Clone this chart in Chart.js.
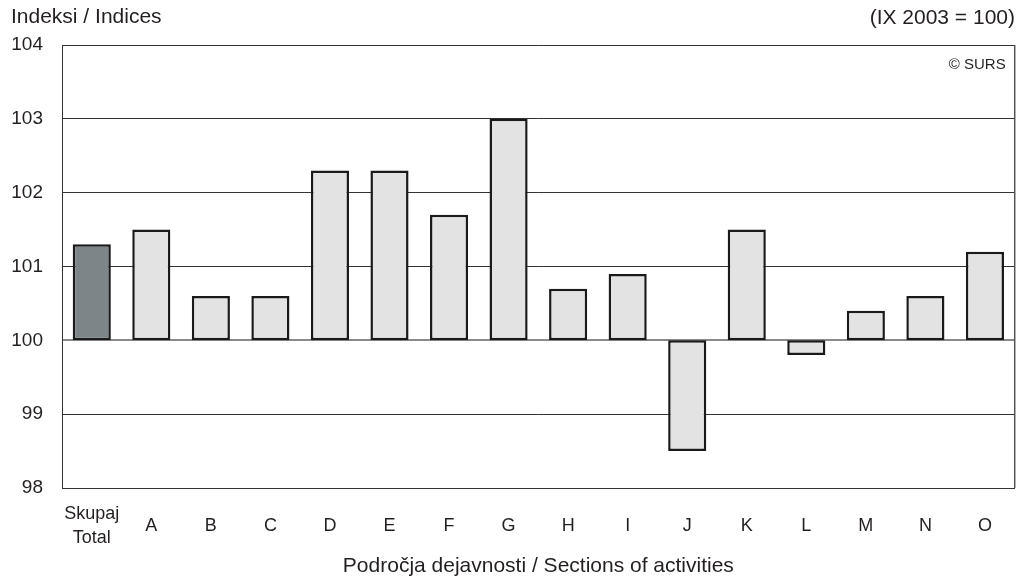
<!DOCTYPE html>
<html>
<head>
<meta charset="utf-8">
<script src="https://cdn.jsdelivr.net/npm/chart.js@4"></script>
<style>
  html, body { margin: 0; padding: 0; background: #fff; }
  #wrap { width: 1018px; height: 579px; position: relative; }
</style>
</head>
<body>
<div id="wrap"><canvas id="graficoIndeksi"></canvas></div>
<script>
const kategorije = [["Skupaj", "Total"], "A", "B", "C", "D", "E", "F", "G", "H", "I", "J", "K", "L", "M", "N", "O"];
const indeksi = [101.3, 101.5, 100.6, 100.6, 102.3, 102.3, 101.7, 103.0, 100.7, 100.9, 98.5, 101.5, 99.8, 100.4, 100.6, 101.2];
const osnova = 100;
const yTicks = [98, 99, 100, 101, 102, 103, 104];

const naslovLevo = "Indeksi / Indices";
const naslovDesno = "(IX 2003 = 100)";
const vir = "© SURS";
const naslovX = "Področja dejavnosti / Sections of activities";

const FONT = "'Liberation Sans', Arial, sans-serif";
const TEXT = "#231f20";

// plovni stolpci od 100 do vrednosti
const podatki = indeksi.map(v => [osnova, v]);
const barve = indeksi.map((v, i) => i === 0 ? "#7e8588" : "#e3e3e3");

// desni rob okvirja in besedila nad grafom
const dodatki = {
    id: "dodatki",
    afterDraw(chart) {
        const ctx = chart.ctx;
        const a = chart.chartArea;
        ctx.save();
        ctx.strokeStyle = "#555";
        ctx.lineWidth = 1.5;
        ctx.beginPath();
        ctx.moveTo(a.right, a.top);
        ctx.lineTo(a.right, a.bottom);
        ctx.stroke();

        ctx.fillStyle = TEXT;
        ctx.textBaseline = "middle";
        ctx.font = "21px " + FONT;
        ctx.textAlign = "left";
        ctx.fillText(naslovLevo, 11, 17);
        ctx.textAlign = "right";
        ctx.fillText(naslovDesno, 1015, 18);
        ctx.font = "15px " + FONT;
        ctx.fillText(vir, a.right - 9, a.top + 20);
        ctx.restore();
    }
};

const ctx = document.getElementById("graficoIndeksi").getContext("2d");
new Chart(ctx, {
    type: "bar",
    data: {
        labels: kategorije,
        datasets: [{
            data: podatki,
            backgroundColor: barve,
            borderColor: "#1a1a1a",
            borderWidth: 2.5,
            borderSkipped: false,
            categoryPercentage: 1,
            barPercentage: 0.64
        }]
    },
    options: {
        responsive: true,
        maintainAspectRatio: false,
        animation: false,
        layout: { padding: { top: 45, right: 2, left: 0, bottom: 0 } },
        plugins: {
            legend: { display: false },
            tooltip: { enabled: false }
        },
        scales: {
            x: {
                grid: { display: false, drawTicks: false },
                border: { display: true, color: "#333", width: 1 },
                ticks: {
                    color: TEXT,
                    font: { family: FONT, size: 18, lineHeight: "24px" },
                    padding: 26,
                    crossAlign: "center",
                    maxRotation: 0,
                    autoSkip: false
                },
                title: {
                    display: true,
                    text: naslovX,
                    color: TEXT,
                    font: { family: FONT, size: 21 },
                    padding: { top: 0, bottom: 0 }
                },
                afterFit(scale) { scale.height = 91; }
            },
            y: {
                min: yTicks[0],
                max: yTicks[yTicks.length - 1],
                afterBuildTicks(scale) { scale.ticks = yTicks.map(v => ({ value: v })); },
                grid: {
                    drawTicks: false,
                    color: c => c.tick && c.tick.value === osnova ? "#8a8a8a" : "#333",
                    lineWidth: c => c.tick && c.tick.value === osnova ? 2 : 1
                },
                border: { display: true, color: "#333", width: 1 },
                ticks: {
                    color: TEXT,
                    font: { family: FONT, size: 19 },
                    padding: 19
                },
                afterFit(scale) { scale.width = 62; }
            }
        }
    },
    plugins: [dodatki]
});
</script>
</body>
</html>
